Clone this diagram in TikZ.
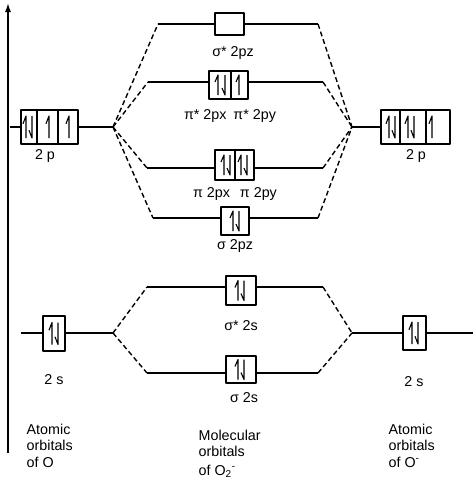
\documentclass[tikz,border=0pt]{standalone}
\usepackage{fontspec}
\setmainfont{Liberation Sans}
\usetikzlibrary{arrows.meta}
\begin{document}
\begin{tikzpicture}[x=1pt,y=-1pt,line width=1.4pt,line join=round,
  orb/.style={draw,rectangle,inner sep=0pt,line width=1.4pt},
  dsh/.style={dash pattern=on 5pt off 3pt},
  lbl/.style={font=\fontsize{14.3}{16.5}\selectfont,inner sep=0pt},
  uh/.pic={\draw[line width=1.1pt] (0,10)--(0,-10)--(-3,-3);},
  dh/.pic={\draw[line width=1.1pt] (0,-10)--(0,10)--(-3,3);}]
\useasboundingbox (0,0) rectangle (474,479);

% axis
\coordinate (axB) at (8,453);
\coordinate (axT) at (8,3);
\draw[line width=1.5pt,-{Latex[length=9pt,width=6pt]}] (axB) -- (axT);

% coordinates
\coordinate (lead) at (10,127);
\coordinate (vL2p) at (113,127);
\coordinate (vR2p) at (352,127);
\coordinate (a1L) at (158,24);  \coordinate (a1R) at (318,24);
\coordinate (a2L) at (148,82);  \coordinate (a2R) at (323,82);
\coordinate (a3L) at (147,168); \coordinate (a3R) at (323,168);
\coordinate (a4L) at (153,218); \coordinate (a4R) at (318,218);
\coordinate (vL2s) at (113,333);
\coordinate (vR2s) at (352,333);
\coordinate (b1L) at (147,287); \coordinate (b1R) at (323,287);
\coordinate (b2L) at (147,373); \coordinate (b2R) at (318,373);
\coordinate (lead2) at (21,333);
\coordinate (tail2) at (473,333);

% boxes
\node[orb,minimum width=57pt,minimum height=34pt] (L2p) at (49.5,127) {};
\node[orb,minimum width=69pt,minimum height=34pt] (R2p) at (415.5,127) {};
\node[orb,minimum width=29pt,minimum height=22pt] (ss2pz) at (229.5,24) {};
\node[orb,minimum width=39pt,minimum height=28pt] (pis) at (228.5,85) {};
\node[orb,minimum width=39pt,minimum height=30pt] (pib) at (234.5,165) {};
\node[orb,minimum width=28pt,minimum height=28pt] (s2pz) at (235,221) {};
\node[orb,minimum width=30pt,minimum height=29pt] (ss2s) at (241,290.5) {};
\node[orb,minimum width=30pt,minimum height=27pt] (s2s) at (241,369.5) {};
\node[orb,minimum width=22pt,minimum height=35pt] (L2s) at (54,333.5) {};
\node[orb,minimum width=23pt,minimum height=34pt] (R2s) at (414.5,333) {};

% dividers
\draw (37,110) -- (37,144);
\draw (58,110) -- (58,144);
\draw (400,110) -- (400,144);
\draw (426,110) -- (426,144);
\draw (231,71) -- (231,99);
\draw (235,150) -- (235,180);

% electrons
\pic[yscale=1.1] at (26,127) {uh}; \pic[yscale=1.1] at (32,127) {dh};
\pic[yscale=1.1] at (49,127) {uh};
\pic[yscale=1.1] at (69,127) {uh};
\pic[yscale=1.1] at (389,127) {uh}; \pic[yscale=1.1] at (395,127) {dh};
\pic[yscale=1.1] at (408,127) {uh}; \pic[yscale=1.1] at (414,127) {dh};
\pic[yscale=1.1] at (432,127) {uh};
\pic at (218,85) {uh}; \pic at (225,85) {dh};
\pic at (239,85) {uh};
\pic at (224,165) {uh}; \pic at (230,165) {dh};
\pic at (241,165) {uh}; \pic at (247,165) {dh};
\pic at (233,221) {uh}; \pic at (239,221) {dh};
\pic at (238,290.5) {uh}; \pic at (244,290.5) {dh};
\pic at (238,369.5) {uh}; \pic at (244,369.5) {dh};
\pic[yscale=1.1] at (52,333.5) {uh}; \pic[yscale=1.1] at (58,333.5) {dh};
\pic[yscale=1.1] at (412,333) {uh}; \pic[yscale=1.1] at (418,333) {dh};

% connectors: 2p
\draw (lead) -- (L2p.west |- lead);
\draw (L2p.east |- lead) -- (vL2p);
\draw (vR2p) -- (R2p.west |- vR2p);
\draw[dsh] (vL2p) -- (a1L); \draw (a1L) -- (ss2pz.west |- a1L);
\draw (ss2pz.east |- a1R) -- (a1R); \draw[dsh] (a1R) -- (vR2p);
\draw[dsh] (vL2p) -- (a2L); \draw (a2L) -- (pis.west |- a2L);
\draw (pis.east |- a2R) -- (a2R); \draw[dsh] (a2R) -- (vR2p);
\draw[dsh] (vL2p) -- (a3L); \draw (a3L) -- (pib.west |- a3L);
\draw (pib.east |- a3R) -- (a3R); \draw[dsh] (a3R) -- (vR2p);
\draw[dsh] (vL2p) -- (a4L); \draw (a4L) -- (s2pz.west |- a4L);
\draw (s2pz.east |- a4R) -- (a4R); \draw[dsh] (a4R) -- (vR2p);

% connectors: 2s
\draw (lead2) -- (L2s.west |- lead2);
\draw (L2s.east |- vL2s) -- (vL2s);
\draw (vR2s) -- (R2s.west |- vR2s);
\draw (R2s.east |- tail2) -- (tail2);
\draw[dsh] (vL2s) -- (b1L); \draw (b1L) -- (ss2s.west |- b1L);
\draw (ss2s.east |- b1R) -- (b1R); \draw[dsh] (b1R) -- (vR2s);
\draw[dsh] (vL2s) -- (b2L); \draw (b2L) -- (s2s.west |- b2L);
\draw (s2s.east |- b2R) -- (b2R); \draw[dsh] (b2R) -- (vR2s);

% labels
\node[lbl] (t2pL) at (45,156) {2 p};
\node[lbl] (t2pR) at (416,156) {2 p};
\node[lbl] (tss2pz) at (233,53) {σ* 2pz};
\node[lbl] (tpis) at (230,116) {π* 2px\hspace{7pt}π* 2py};
\node[lbl] (tpib) at (235,194) {π 2px\hspace{10pt}π 2py};
\node[lbl] (ts2pz) at (235,246) {σ 2pz};
\node[lbl] (tss2s) at (241,326) {σ* 2s};
\node[lbl] (ts2s) at (244,398) {σ 2s};
\node[lbl] (t2sL) at (54,380) {2 s};
\node[lbl] (t2sR) at (414,382) {2 s};
\node[lbl,align=left,anchor=north west] (atL) at (26,423) {Atomic\\orbitals\\of O};
\node[lbl,align=left,anchor=north west] (mol) at (198,429) {Molecular\\orbitals\\[2pt]of O\textsubscript{2}\textsuperscript{-}};
\node[lbl,align=left,anchor=north west] (atR) at (388,423) {Atomic\\orbitals\\of O\textsuperscript{-}};
\end{tikzpicture}
\end{document}
